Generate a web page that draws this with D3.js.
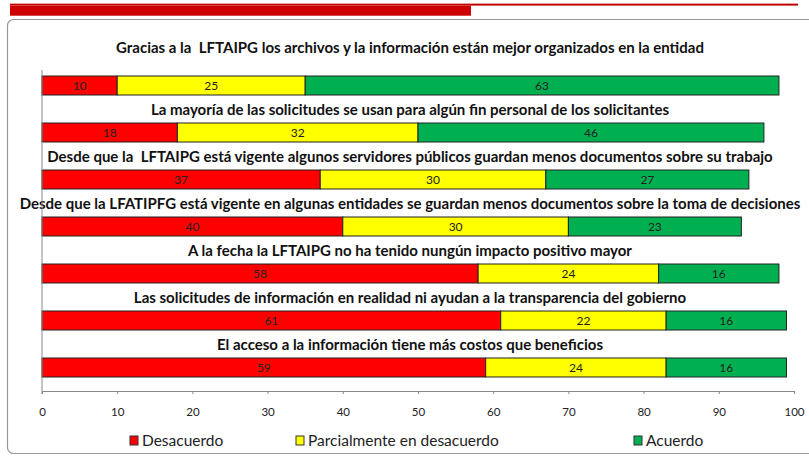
<!DOCTYPE html>
<html>
<head>
<meta charset="utf-8">
<script src="https://cdn.jsdelivr.net/npm/d3@7"></script>
<style>
  body { margin: 0; background: #fff; }
  svg text { font-family: Lato, "Open Sans", sans-serif; white-space: pre; }
</style>
</head>
<body>
<div id="chart"></div>
<script>
// survey statements, top to bottom
var questions = [
  "Gracias a la  LFTAIPG los archivos y la información están mejor organizados en la entidad",
  "La mayoría de las solicitudes se usan para algún fin personal de los solicitantes",
  "Desde que la  LFTAIPG está vigente algunos servidores públicos guardan menos documentos sobre su trabajo",
  "Desde que la LFATIPFG está vigente en algunas entidades se guardan menos documentos sobre la toma de decisiones",
  "A la fecha la LFTAIPG no ha tenido nungún impacto positivo mayor",
  "Las solicitudes de información en realidad ni ayudan a la transparencia del gobierno",
  "El acceso a la información tiene más costos que beneficios"
];
var seriesNames = ["Desacuerdo", "Parcialmente en desacuerdo", "Acuerdo"];
var desacuerdo = [10, 18, 37, 40, 58, 61, 59];
var parcialmente = [25, 32, 30, 30, 24, 22, 24];
var acuerdo = [63, 46, 27, 23, 16, 16, 16];
var xTicks = [0, 10, 20, 30, 40, 50, 60, 70, 80, 90, 100];
var colors = ["#ff0000", "#ffff00", "#00b050"];

var width = 809, height = 457;
var svg = d3.select("#chart").append("svg")
  .attr("width", width)
  .attr("height", height);

//slide decoration: red band and thin line on top
svg.append("rect").attr("x", 10).attr("y", 4).attr("width", 788).attr("height", 1.6).attr("fill", "#c00000");
svg.append("rect").attr("x", 10).attr("y", 3).attr("width", 788).attr("height", 1).attr("fill", "#e8a0a0");
svg.append("rect").attr("x", 10).attr("y", 5.7).attr("width", 461).attr("height", 10).attr("fill", "#cc0000");

//chart frame
svg.append("rect")
  .attr("x", 7.5).attr("y", 19.5)
  .attr("width", 900).attr("height", 434)
  .attr("rx", 6)
  .attr("fill", "#fff")
  .attr("stroke", "#999")
  .attr("stroke-width", 1.2);

var x = d3.scaleLinear().domain([0, 100]).range([42, 794]);
var y = d3.scaleBand()
  .domain(d3.range(questions.length))
  .range([391 - 7 * 47, 391])
  .paddingInner(0.596)
  .paddingOuter(0.298);

var rows = questions.map(function(q, i) {
  var vals = [desacuerdo[i], parcialmente[i], acuerdo[i]], acc = 0;
  return vals.map(function(v, k) {
    var seg = {row: i, k: k, x0: acc, x1: acc + v, value: v};
    acc += v;
    return seg;
  });
});

var segs = d3.merge(rows);

svg.append("g").selectAll("rect")
  .data(segs)
  .join("rect")
  .attr("x", function(d) { return x(d.x0); })
  .attr("y", function(d) { return y(d.row); })
  .attr("width", function(d) { return x(d.x1) - x(d.x0); })
  .attr("height", y.bandwidth())
  .attr("fill", function(d) { return colors[d.k]; })
  .attr("stroke", "#222")
  .attr("stroke-width", 1);

svg.append("g").selectAll("text")
  .data(segs)
  .join("text")
  .attr("x", function(d) { return x((d.x0 + d.x1) / 2); })
  .attr("y", function(d) { return y(d.row) + y.bandwidth() / 2 + 4.5; })
  .attr("text-anchor", "middle")
  .style("font-size", "12px")
  .style("fill", "#222")
  .text(function(d) { return d.value; });

//statement titles above each bar
svg.append("g").selectAll("text")
  .data(questions)
  .join("text")
  .attr("x", 410)
  .attr("y", function(d, i) { return i === 0 ? y(i) - 23 : y(i) - 8; })
  .attr("text-anchor", "middle")
  .style("font-size", "15px")
  .style("font-weight", "bold")
  .style("fill", "#111")
  .text(function(d) { return d; });

//x axis
var axis = svg.append("g")
  .attr("transform", "translate(0,391)")
  .call(d3.axisBottom(x).tickValues(xTicks).tickSize(3).tickPadding(14));
axis.select(".domain").attr("stroke", "#888");
axis.selectAll(".tick line").attr("stroke", "#888");
axis.selectAll(".tick text")
  .style("font-family", "Lato, sans-serif")
  .style("font-size", "11.5px")
  .style("fill", "#222");

//y axis line
svg.append("line")
  .attr("x1", x(0)).attr("x2", x(0))
  .attr("y1", y.range()[0] + 8).attr("y2", 394)
  .attr("stroke", "#888");

//legend
var legendX = [130, 296, 634];
var legend = svg.append("g").selectAll("g")
  .data(seriesNames)
  .join("g")
  .attr("transform", function(d, i) { return "translate(" + legendX[i] + ",436)"; });
legend.append("rect")
  .attr("width", 8).attr("height", 9)
  .attr("fill", function(d, i) { return colors[i]; })
  .attr("stroke", "#333");
legend.append("text")
  .attr("x", 12).attr("y", 10)
  .style("font-size", "15.5px")
  .style("fill", "#222")
  .text(function(d) { return d; });
</script>
</body>
</html>
